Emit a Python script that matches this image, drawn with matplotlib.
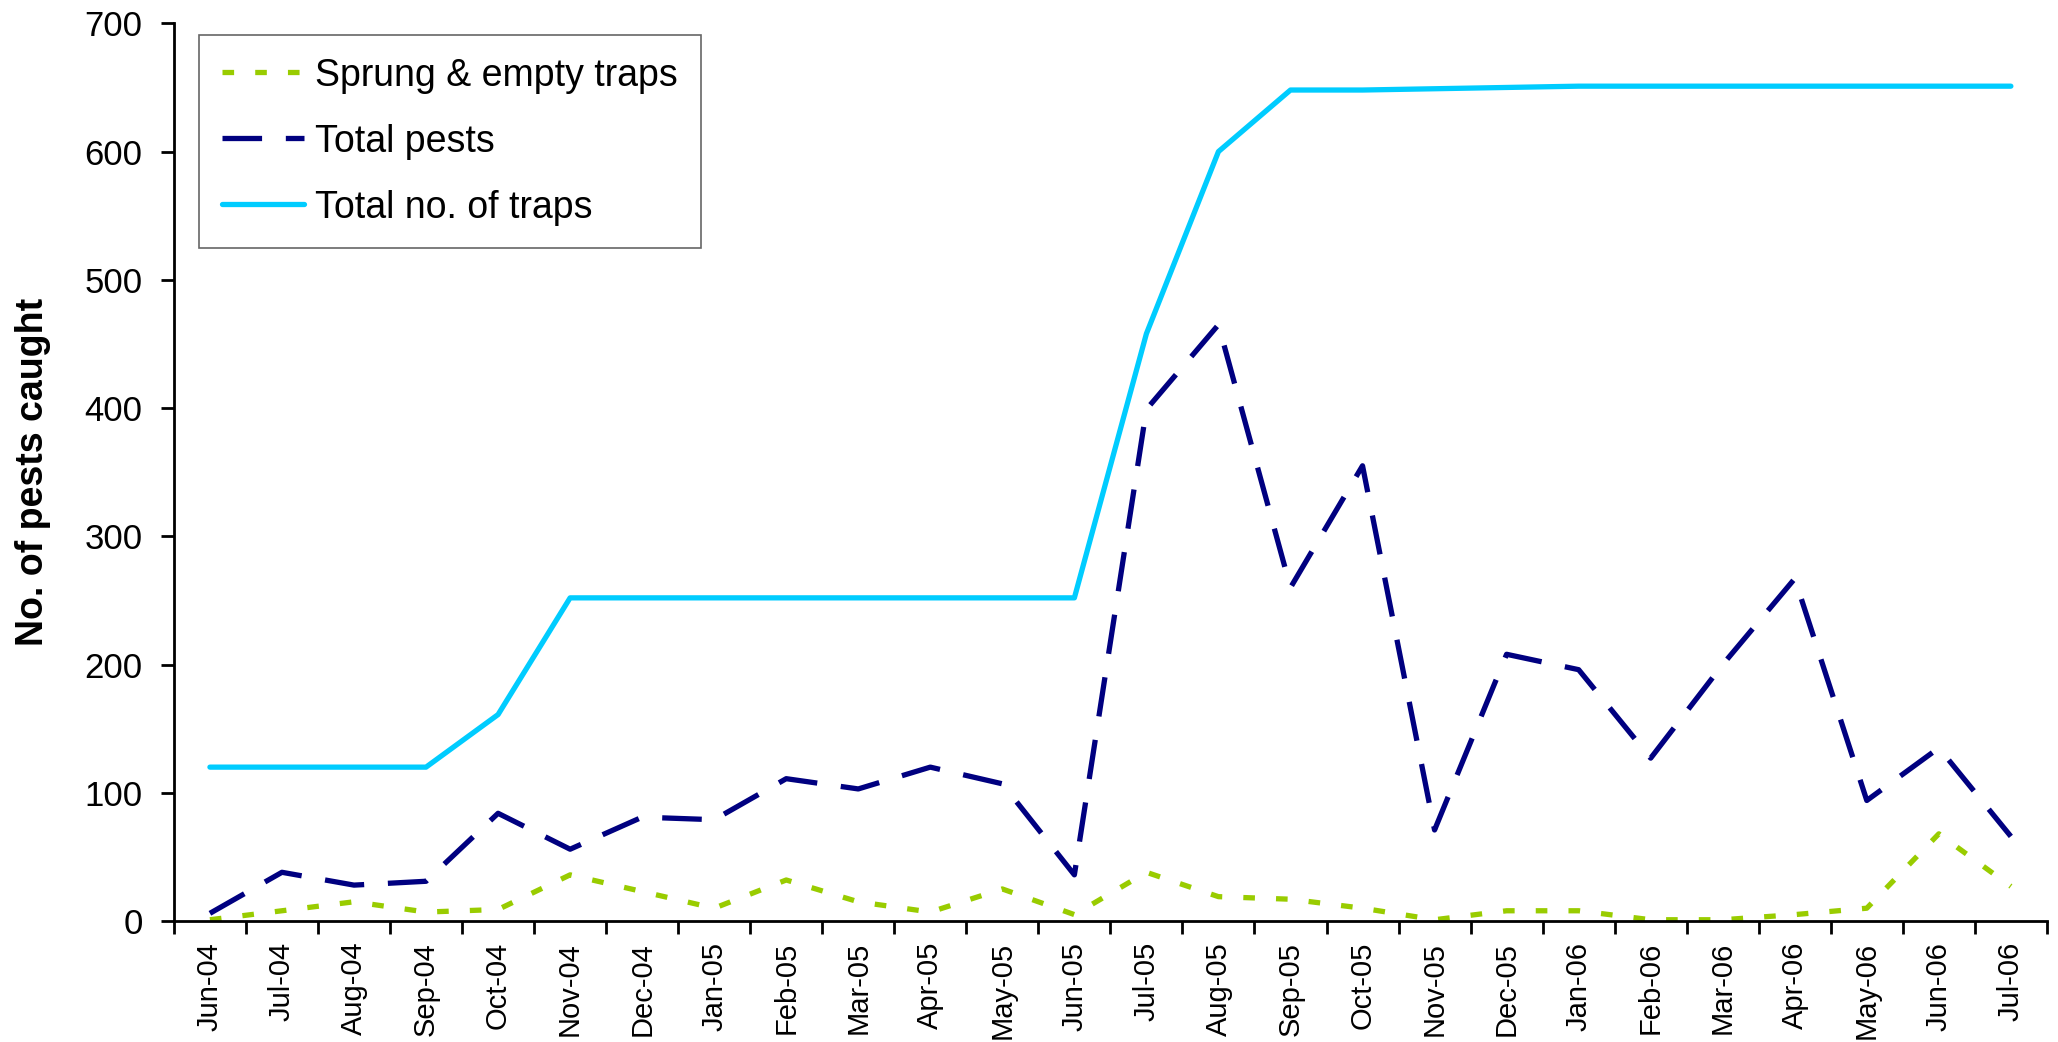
import matplotlib
matplotlib.use("Agg")
import matplotlib.pyplot as plt
from matplotlib import font_manager
from matplotlib.ticker import FixedLocator

# month categories
months = ['Jun-04', 'Jul-04', 'Aug-04', 'Sep-04', 'Oct-04', 'Nov-04', 'Dec-04',
          'Jan-05', 'Feb-05', 'Mar-05', 'Apr-05', 'May-05', 'Jun-05', 'Jul-05',
          'Aug-05', 'Sep-05', 'Oct-05', 'Nov-05', 'Dec-05', 'Jan-06', 'Feb-06',
          'Mar-06', 'Apr-06', 'May-06', 'Jun-06', 'Jul-06']

# series values
sprung_empty = [1, 8, 15, 7, 9, 36, 23, 10, 32, 15, 7, 25, 5, 38,
                19, 17, 10, 1, 8, 8, 1, 1, 5, 10, 68, 27]
total_pests = [6, 38, 28, 31, 84, 56, 81, 79, 111, 103, 120, 107, 36, 399,
               465, 260, 355, 71, 208, 196, 127, 200, 267, 94, 135, 66]
total_traps = [120, 120, 120, 120, 161, 252, 252, 252, 252, 252, 252, 252, 252, 458,
               600, 648, 648, 649, 650, 651, 651, 651, 651, 651, 651, 651]

y_ticks = [0, 100, 200, 300, 400, 500, 600, 700]

# the original uses Arial Narrow; use a narrow face if one is installed
installed = {f.name for f in font_manager.fontManager.ttflist}
if 'Liberation Sans Narrow' in installed:
    narrow = ['Liberation Sans Narrow', 'DejaVu Sans']
    tick_size, leg_size, xt_size = 28, 32, 25
else:
    narrow = ['Liberation Sans', 'DejaVu Sans']
    tick_size, leg_size, xt_size = 25, 27, 21

fig = plt.figure(figsize=(20.58, 10.42), dpi=100)
ax = fig.add_axes([0.0845, 0.1161, 0.9101, 0.8615])

x = list(range(len(months)))
ax.plot(x, sprung_empty, color='#99CC00', lw=3.8, linestyle=(0, (2.2, 4.0)),
        label='Sprung & empty traps')
ax.plot(x, total_pests, color='#000080', lw=3.8, linestyle=(0, (7.5, 4.5)),
        label='Total pests')
ax.plot(x, total_traps, color='#00CCFF', lw=3.8, solid_capstyle='round',
        label='Total no. of traps')

ax.set_xlim(-0.5, len(months) - 0.5)
ax.set_ylim(0, 700)

for s in ['top', 'right']:
    ax.spines[s].set_visible(False)
for s in ['left', 'bottom']:
    ax.spines[s].set_linewidth(2.0)

# labels at category centres, tick marks between categories
ax.set_xticks(x)
ax.set_xticklabels(months, rotation=90, fontsize=xt_size, family=narrow)
ax.tick_params(axis='x', which='major', length=0, pad=15)
ax.xaxis.set_minor_locator(FixedLocator([i - 0.5 for i in range(len(months) + 1)]))
ax.tick_params(axis='x', which='minor', length=9.5, width=2.0, direction='out')

ax.set_yticks(y_ticks)
ax.set_yticklabels([str(v) for v in y_ticks], fontsize=tick_size, family=narrow)
ax.tick_params(axis='y', length=9.5, width=2.0, direction='out', pad=13)

ax.set_ylabel('No. of pests caught', fontsize=27, fontweight='bold',
              family=['Liberation Sans', 'DejaVu Sans'])
ax.yaxis.set_label_coords(-0.0654, 0.5)

leg = ax.legend(loc='upper left', bbox_to_anchor=(199 / 2058, 1 - 35 / 1042),
                bbox_transform=fig.transFigure, borderaxespad=0,
                prop={'family': narrow, 'size': leg_size}, frameon=True, fancybox=False,
                handlelength=2.2, handletextpad=0.3, labelspacing=0.8,
                borderpad=0.6)
leg.get_frame().set_edgecolor('#404040')
leg.get_frame().set_linewidth(1.2)

fig.savefig('out.png', dpi=100)
